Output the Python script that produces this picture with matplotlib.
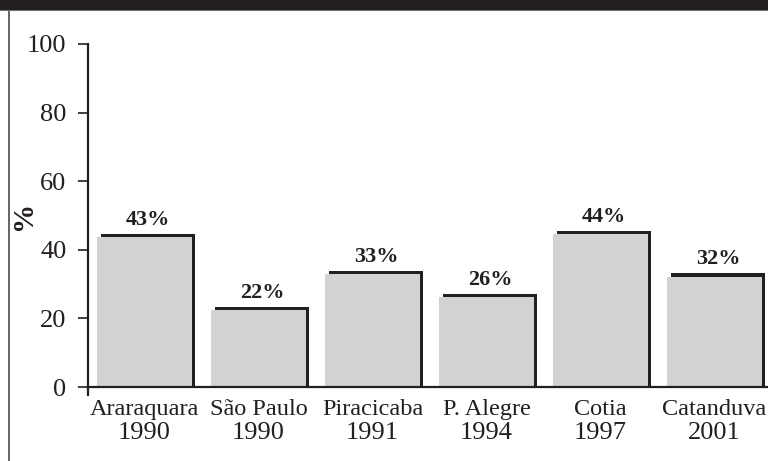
import numpy as np
import matplotlib.pyplot as plt
from matplotlib.patches import Rectangle
from matplotlib.lines import Line2D

# data
cities = ['Araraquara', 'São Paulo', 'Piracicaba', 'P. Alegre', 'Cotia', 'Catanduva']
years = ['1990', '1990', '1991', '1994', '1997', '2001']
values = [43.8, 22.5, 33.0, 26.2, 44.6, 32.2]
labels = ['43%', '22%', '33%', '26%', '44%', '32%']

ink = '#231f20'
fill = '#d1d2d4'

plt.rcParams['font.family'] = ['Liberation Serif', 'DejaVu Serif']

fig = plt.figure(figsize=(7.68, 4.61), dpi=100)
ax = fig.add_axes([88 / 768, 74 / 461, 1 - 88 / 768, 343 / 461])

x = np.arange(len(cities))
w = 0.83
dx, dy = 0.03, 0.9  # shadow offset

# shadow behind, then gray bar on top
ax.bar(x + dx, np.array(values) + dy, width=w, color=ink, zorder=2)
ax.bar(x, values, width=w, color=fill, zorder=3)

for xi, v, lab in zip(x, values, labels):
    ax.annotate(lab, (xi + dx, v + dy), xytext=(0, 3), textcoords='offset points',
                ha='center', va='bottom', fontsize=16, fontweight='bold', color=ink)

# category labels: city name, then year a bit larger (digits are wide in the original)
for xi, c, yr in zip(x, cities, years):
    ax.annotate(c, (xi, 0), xycoords=('data', 'axes fraction'), xytext=(0, -16.5),
                textcoords='offset points', ha='center', va='center', fontsize=17.5, color=ink)
    ax.annotate(yr, (xi, 0), xycoords=('data', 'axes fraction'), xytext=(0, -33),
                textcoords='offset points', ha='center', va='center', fontsize=19, color=ink)

ax.set_xlim(-0.4956, 5.469)
ax.set_ylim(0, 100)
ax.set_yticks([0, 20, 40, 60, 80, 100])
ax.set_xticks([])

for s in ['top', 'right']:
    ax.spines[s].set_visible(False)
for s in ['left', 'bottom']:
    ax.spines[s].set_color(ink)
    ax.spines[s].set_linewidth(1.6)
    ax.spines[s].set_zorder(5)

ax.tick_params(axis='y', direction='out', length=7.5, width=1.2, color=ink,
               labelsize=19, labelcolor=ink, pad=8)

# small stub of the y axis below zero
ax.axvline(ax.get_xlim()[0], ymin=-0.024, ymax=0, color=ink, lw=1.6, clip_on=False)

ax.set_ylabel('%', fontsize=21, fontweight='bold', color=ink)
ax.yaxis.set_label_coords(-0.075, 0.5)

# header band and left frame line
fig.patches.append(Rectangle((0, 1 - 9 / 461), 1, 9 / 461, transform=fig.transFigure,
                             color=ink, zorder=10))
fig.lines.append(Line2D([8.5 / 768, 8.5 / 768], [0, 1 - 9 / 461], transform=fig.transFigure,
                        color='#4a4a4a', lw=1.2))
fig.lines.append(Line2D([0, 1], [1 - 10 / 461, 1 - 10 / 461], transform=fig.transFigure,
                        color='#888888', lw=0.8))

fig.savefig('out.png', dpi=100)
